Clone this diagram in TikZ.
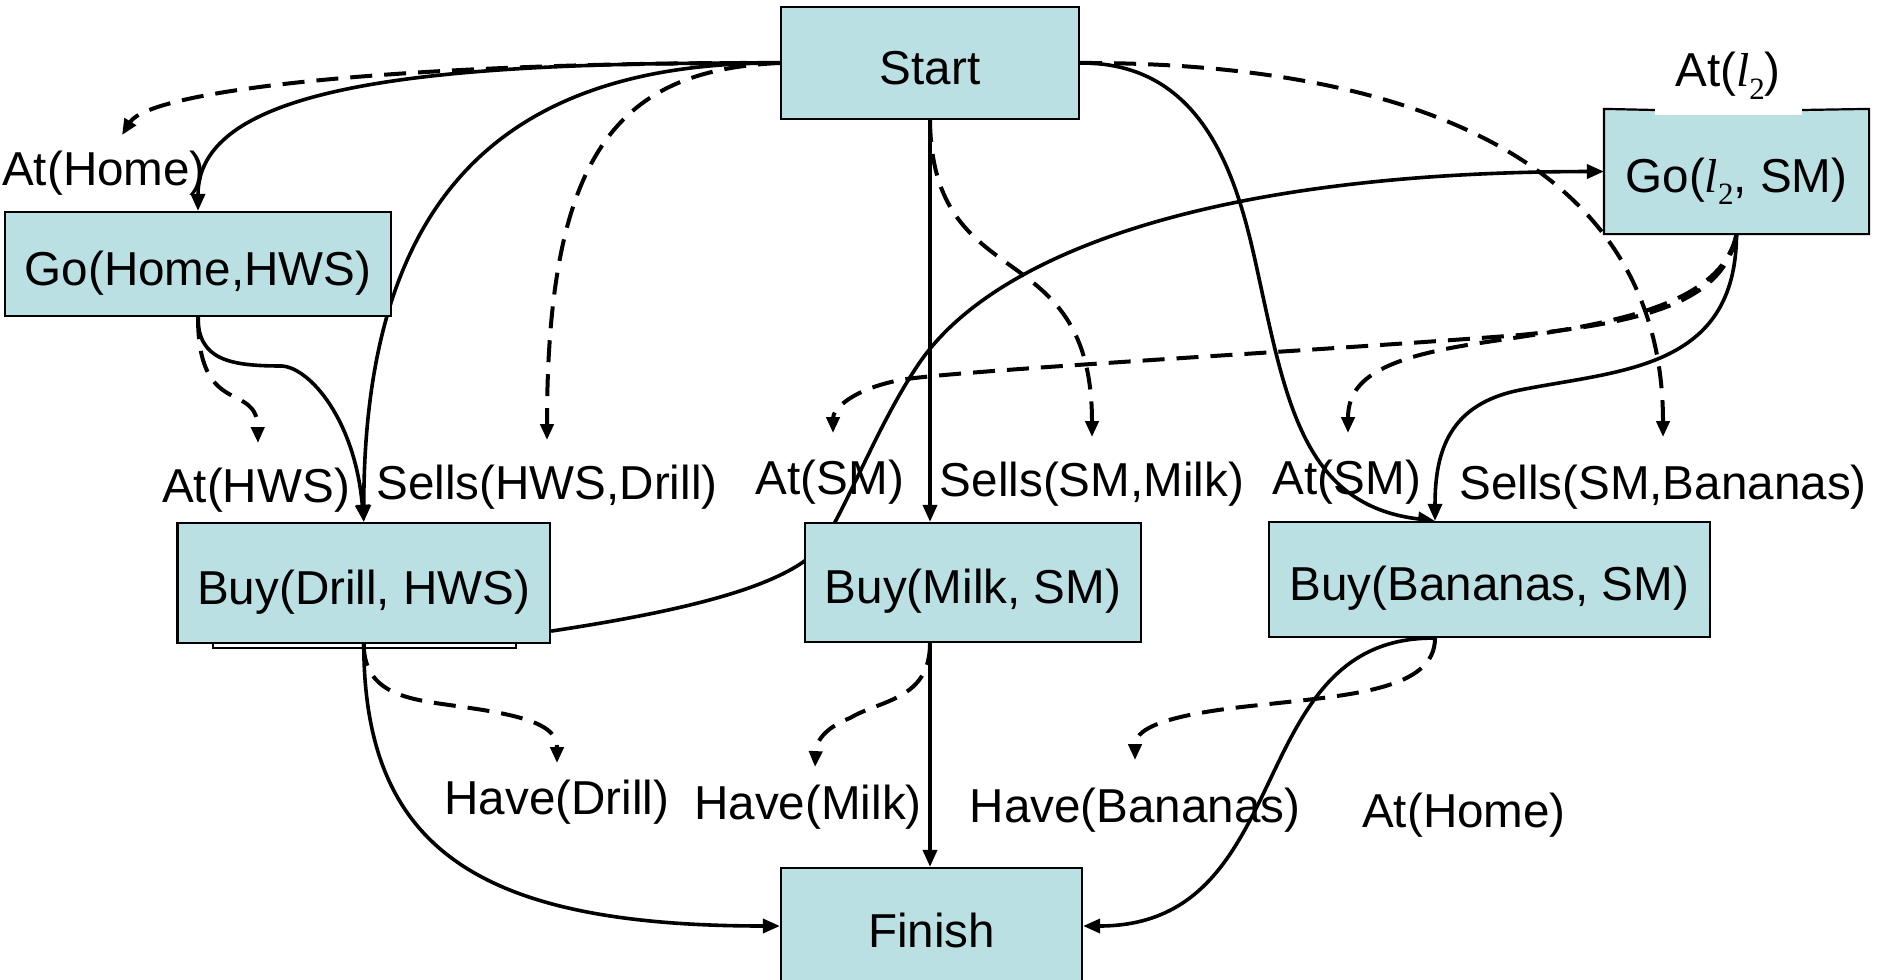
\documentclass[tikz,border=0pt]{standalone}
\usepackage{fontspec}
\setmainfont{Liberation Sans}
\newfontfamily\serifit{Liberation Serif}
\usetikzlibrary{arrows.meta,backgrounds}

\definecolor{boxfill}{RGB}{187,224,227}
% italic l with subscript 2
\newcommand{\lvar}{{\serifit\itshape l}\raisebox{-6pt}{\serifit\fontsize{15.5}{15.5}\selectfont 2}}

\begin{document}
\begin{tikzpicture}[x=0.5pt,y=-0.5pt,
  font=\fontsize{23.8}{28}\selectfont,
  box/.style={draw=black, line width=1.1pt, fill=boxfill, inner sep=0pt,
              text height=21pt, text depth=0pt},
  lbl/.style={inner sep=0pt, anchor=base},
  dep/.style={line width=2pt, dash pattern=on 11pt off 6pt,
              -{Triangle[length=8pt,width=6.5pt]}},
  link/.style={line width=1.8pt, -{Triangle[length=8.5pt,width=7pt]}}]

\useasboundingbox (0,0) rectangle (1882,979);
\clip (0,0) rectangle (1882,979);

% actions
\node[box, minimum width=149pt, minimum height=56pt] (start) at (930,63) {Start};
\node[box, minimum width=193pt, minimum height=52pt] (gohome) at (198,264) {Go(Home,HWS)};
\node[box, draw=none, minimum width=131.5pt, minimum height=61.5pt] (gol2) at (1736.5,171.5) {Go(\lvar, SM)};
\node[box, minimum width=186.25pt, minimum height=60pt] (buydrill) at (363.75,583) {Buy(Drill, HWS)};
\node[box, minimum width=168pt, minimum height=59.5pt] (buymilk) at (973,582.5) {Buy(Milk, SM)};
\node[box, minimum width=220.5pt, minimum height=57.5pt] (buybananas) at (1489.5,579.5) {Buy(Bananas, SM)};
\node[box, minimum width=150.5pt, minimum height=58pt] (finish) at (931.5,926) {Finish};

% outline of Go(l2,SM), open under its precondition
\draw[line width=1.1pt] (1655,110) -- (gol2.north west) -- (gol2.south west)
  -- (gol2.south east) -- (gol2.north east) -- (1802,110);
\fill[white] (1655,109) rectangle (1802,115);

% conditions
\node[lbl] (lathome) at (104,185) {At(Home)};
\node[lbl] (latl2) at (1728,87) {At(\lvar)};
\node[lbl] (lathws) at (256,502) {At(HWS)};
\node[lbl] (lsellshd) at (547,499) {Sells(HWS,Drill)};
\node[lbl] (latsm1) at (830,494) {At(SM)};
\node[lbl] (lsellsmilk) at (1092,496) {Sells(SM,Milk)};
\node[lbl] (latsm2) at (1347,494) {At(SM)};
\node[lbl] (lsellsban) at (1663,499) {Sells(SM,Bananas)};
\node[lbl] (lhavedrill) at (557,814) {Have(Drill)};
\node[lbl] (lhavemilk) at (808,819) {Have(Milk)};
\node[lbl] (lhaveban) at (1135,822) {Have(Bananas)};
\node[lbl] (lathome2) at (1464,827) {At(Home)};

\begin{pgfonlayer}{background}
% second outline under Buy(Drill, HWS)
\draw[line width=1.1pt] (213,630) rectangle (516,648);

% links out of Start
\draw[link] (start.west) .. controls (450,62) and (198,80) .. (gohome.north);
\draw[dep] (start.west) .. controls (400,62) and (150,90) .. ([xshift=9pt,yshift=7.5pt]lathome.north);
\draw[link] (start.west) .. controls (500,62) and (364,200) .. (buydrill.north);
\draw[dep] (start.west) .. controls (620,70) and (547,150) .. ([yshift=12pt]lsellshd.north);
\draw[link] (start.south) -- (start.south |- buymilk.north);
\draw[dep] (start.south) .. controls (932,300) and (1092,230) .. ([yshift=12pt]lsellsmilk.north);
\draw[link] (start.east) .. controls (1200,62) and (1235,170) .. (1255,260)
  .. controls (1285,395) and (1300,505) .. ([xshift=-27.25pt]buybananas.north);
\draw[dep] (start.east) .. controls (1350,62) and (1663,130) .. ([yshift=13.5pt]lsellsban.north);

% links out of Go(Home,HWS)
\draw[dep] (gohome.south) .. controls (198,420) and (257,380) .. ([xshift=1pt,yshift=12pt]lathws.north);
\draw[link] (gohome.south) .. controls (198,360) and (230,366) .. (282,366)
  .. controls (310,368) and (355,420) .. (buydrill.north);

% ordering link Buy(Drill, HWS) -> Go(l2, SM)
\draw[link] ([yshift=6.5pt]buydrill.south east) .. controls (690,610) and (790,585) .. (822,545)
  .. controls (850,500) and (880,420) .. (920,362)
  .. controls (992,258) and (1200,172) .. (gol2.west);

% links out of Go(l2, SM)
\draw[dep] (gol2.south) .. controls (1725,300) and (1650,322) .. (1520,335)
  .. controls (1300,352) and (960,370) .. (900,380)
  .. controls (850,390) and (833,410) .. ([xshift=1.5pt,yshift=13pt]latsm1.north);
\draw[dep] (gol2.south) .. controls (1720,310) and (1600,325) .. (1480,343)
  .. controls (1380,358) and (1348,380) .. ([xshift=0.5pt,yshift=13pt]latsm2.north);
\draw[link] (gol2.south) .. controls (1736,370) and (1620,370) .. (1520,390)
  .. controls (1450,404) and (1435,450) .. ([xshift=-27.25pt]buybananas.north);

% effects of the Buy actions
\draw[dep] (buydrill.south) .. controls (364,700) and (420,700) .. (470,708)
  .. controls (540,718) and (557,730) .. ([yshift=8pt]lhavedrill.north);
\draw[link] (buydrill.south) .. controls (364,850) and (480,926) .. (finish.west);
\draw[dep] (start.south |- buymilk.south) .. controls (930,700) and (880,700) .. (850,718)
  .. controls (820,730) and (816,745) .. ([xshift=3.5pt,yshift=8.5pt]lhavemilk.north);
\draw[link] (start.south |- buymilk.south) -- (start.south |- finish.north);
\draw[dep] ([xshift=-27.25pt]buybananas.south) .. controls (1435,690) and (1350,695) .. (1260,705)
  .. controls (1180,713) and (1135,725) .. ([yshift=13.5pt]lhaveban.north);
\draw[link] ([xshift=-27.25pt]buybananas.south) .. controls (1240,636) and (1300,926) .. (finish.east);
\end{pgfonlayer}
\end{tikzpicture}
\end{document}
